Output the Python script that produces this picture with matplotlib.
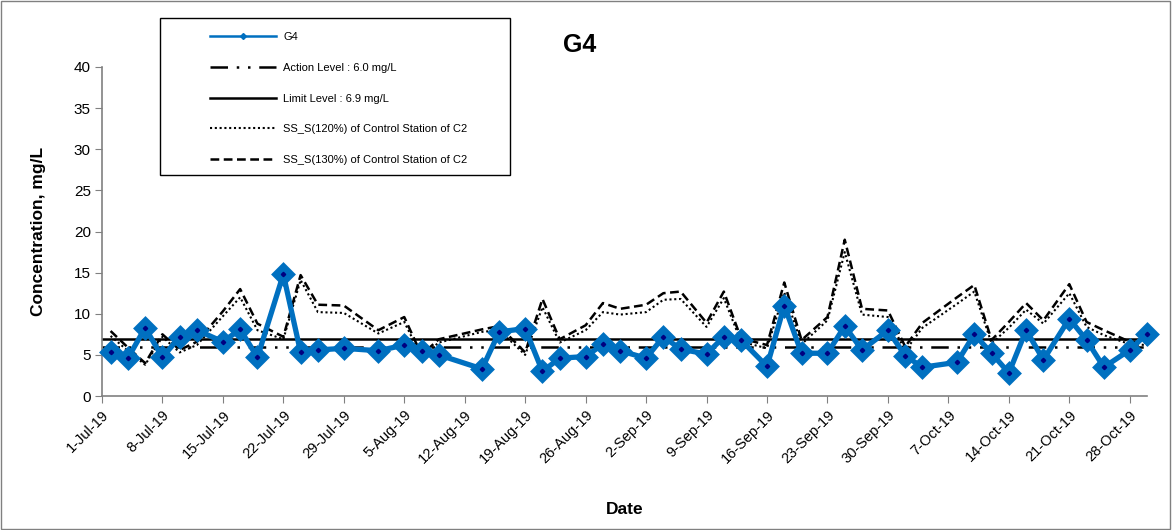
import datetime as dt
import matplotlib
matplotlib.use('Agg')
import matplotlib.pyplot as plt
from matplotlib.lines import Line2D
from matplotlib.patches import Rectangle

plt.rcParams['font.family'] = ['Liberation Sans', 'DejaVu Sans']

# sampling dates (2019)
dates = ['07-02', '07-04', '07-06', '07-08', '07-10', '07-12', '07-15', '07-17', '07-19',
         '07-22', '07-24', '07-26', '07-29', '08-02', '08-05', '08-07', '08-09', '08-14',
         '08-16', '08-19', '08-21', '08-23', '08-26', '08-28', '08-30', '09-02', '09-04',
         '09-06', '09-09', '09-11', '09-13', '09-16', '09-18', '09-20', '09-23', '09-25',
         '09-27', '09-30', '10-02', '10-04', '10-08', '10-10', '10-12', '10-14', '10-16',
         '10-18', '10-21', '10-23', '10-25', '10-28', '10-30']

g4 = [5.3, 4.6, 8.3, 4.7, 7.2, 8.0, 6.6, 8.1, 4.7,
      14.8, 5.3, 5.6, 5.8, 5.5, 6.2, 5.5, 5.0, 3.3,
      7.8, 8.2, 3.0, 4.6, 4.8, 6.3, 5.5, 4.6, 7.2,
      5.7, 5.1, 7.2, 6.8, 3.6, 11.0, 5.2, 5.2, 8.5,
      5.6, 8.0, 4.9, 3.5, 4.1, 7.5, 5.2, 2.8, 8.0,
      4.4, 9.4, 6.8, 3.5, 5.6, 7.6]

ss_120 = [7.3, 5.5, 3.8, 7.2, 5.3, 6.2, 9.7, 12.0, 8.0,
          6.9, 14.1, 10.2, 10.1, 7.6, 9.0, 4.8, 6.5, 7.8,
          8.0, 5.0, 10.8, 6.5, 8.0, 10.2, 9.9, 10.2, 11.7,
          11.8, 8.4, 11.9, 6.6, 5.8, 12.6, 6.3, 9.2, 17.5,
          9.9, 9.6, 5.5, 8.3, 11.2, 12.7, 6.4, 8.3, 10.5,
          8.8, 12.5, 8.4, 7.4, 6.3, 6.2]

ss_130 = [7.9, 5.9, 4.0, 7.5, 5.6, 6.6, 10.3, 13.0, 8.8,
          7.2, 14.7, 11.1, 11.0, 8.0, 9.6, 5.0, 6.9, 8.1,
          8.5, 5.3, 11.8, 6.9, 8.6, 11.3, 10.6, 11.1, 12.5,
          12.7, 8.9, 12.7, 7.0, 6.2, 13.8, 6.8, 9.6, 19.0,
          10.6, 10.4, 6.0, 8.9, 12.0, 13.5, 6.8, 9.0, 11.3,
          9.2, 13.6, 9.0, 8.0, 6.6, 6.5]

action_level = 6.0
limit_level = 6.9

labels = ['G4', 'Action Level : 6.0 mg/L', 'Limit Level : 6.9 mg/L',
          'SS_S(120%) of Control Station of C2', 'SS_S(130%) of Control Station of C2']

x = [dt.date(2019, int(d[:2]), int(d[3:])) for d in dates]
blue = '#0070C0'
act_style = (0, (7, 3.5, 1, 3.5, 1, 3.5))

fig = plt.figure(figsize=(11.72, 5.30), dpi=100)
ax = fig.add_axes([0.087, 0.2528, 0.8917, 0.6208])

ax.axhline(action_level, color='black', lw=1.8, linestyle=act_style, zorder=2)
ax.axhline(limit_level, color='black', lw=1.8, zorder=2)
ax.plot(x, ss_120, color='black', lw=1.5, linestyle=(0, (1, 1.3)), zorder=3)
ax.plot(x, ss_130, color='black', lw=1.8, linestyle=(0, (3.5, 1.8)), zorder=3)
ax.plot(x, g4, color=blue, lw=3.8, marker='D', ms=9, mew=3.5, mec=blue, mfc=blue,
        solid_joinstyle='round', zorder=4, clip_on=False)
ax.plot(x, g4, linestyle='none', marker='D', ms=2.2, color='#000080', zorder=5, clip_on=False)

ax.set_ylim(0, 40)
ax.set_yticks(range(0, 41, 5))
start = dt.date(2019, 7, 1)
ax.set_xlim(start, dt.date(2019, 10, 30))
ticks = [start + dt.timedelta(days=7 * i) for i in range(18)]
ax.set_xticks(ticks)
ax.set_xticklabels([f"{d.day}-{d.strftime('%b-%y')}" for d in ticks],
                   rotation=45, ha='right', rotation_mode='anchor', fontsize=10.5)
ax.tick_params(axis='y', labelsize=11, length=5, color='#808080', direction='out', pad=3)
ax.tick_params(axis='x', length=5, color='#808080', direction='out')
for s in ['top', 'right']:
    ax.spines[s].set_visible(False)
for s in ['left', 'bottom']:
    ax.spines[s].set_color('#808080')
    ax.spines[s].set_linewidth(1.2)

ax.set_xlabel('Date', fontsize=12.5, fontweight='bold', labelpad=26)
ax.set_ylabel('Concentration, mg/L', fontsize=12.5, fontweight='bold', labelpad=20)
fig.text(580 / 1172, 1 - 45 / 530, 'G4', fontsize=18, fontweight='bold', ha='center', va='center')

handles = [
    Line2D([], [], color=blue, lw=1.8, marker='D', ms=3),
    Line2D([], [], color='black', lw=1.8, linestyle=act_style),
    Line2D([], [], color='black', lw=1.8),
    Line2D([], [], color='black', lw=1.5, linestyle=(0, (1, 1.3))),
    Line2D([], [], color='black', lw=1.8, linestyle=(0, (3.5, 1.8))),
]
fig.patches.append(Rectangle((160 / 1172, 1 - 175 / 530), 350 / 1172, 157 / 530,
                             transform=fig.transFigure, fill=False, edgecolor='black', lw=1))
fig.legend(handles, labels, loc='upper left', bbox_to_anchor=(210 / 1172, 1 - 32 / 530),
           frameon=False, fontsize=8, handlelength=5.9, handletextpad=0.7,
           labelspacing=1.87, borderpad=0, borderaxespad=0)

fig.patches.append(Rectangle((0.001, 0.002), 0.997, 0.996, transform=fig.transFigure,
                             fill=False, edgecolor='#808080', lw=1))

fig.savefig('out.png', dpi=100)
